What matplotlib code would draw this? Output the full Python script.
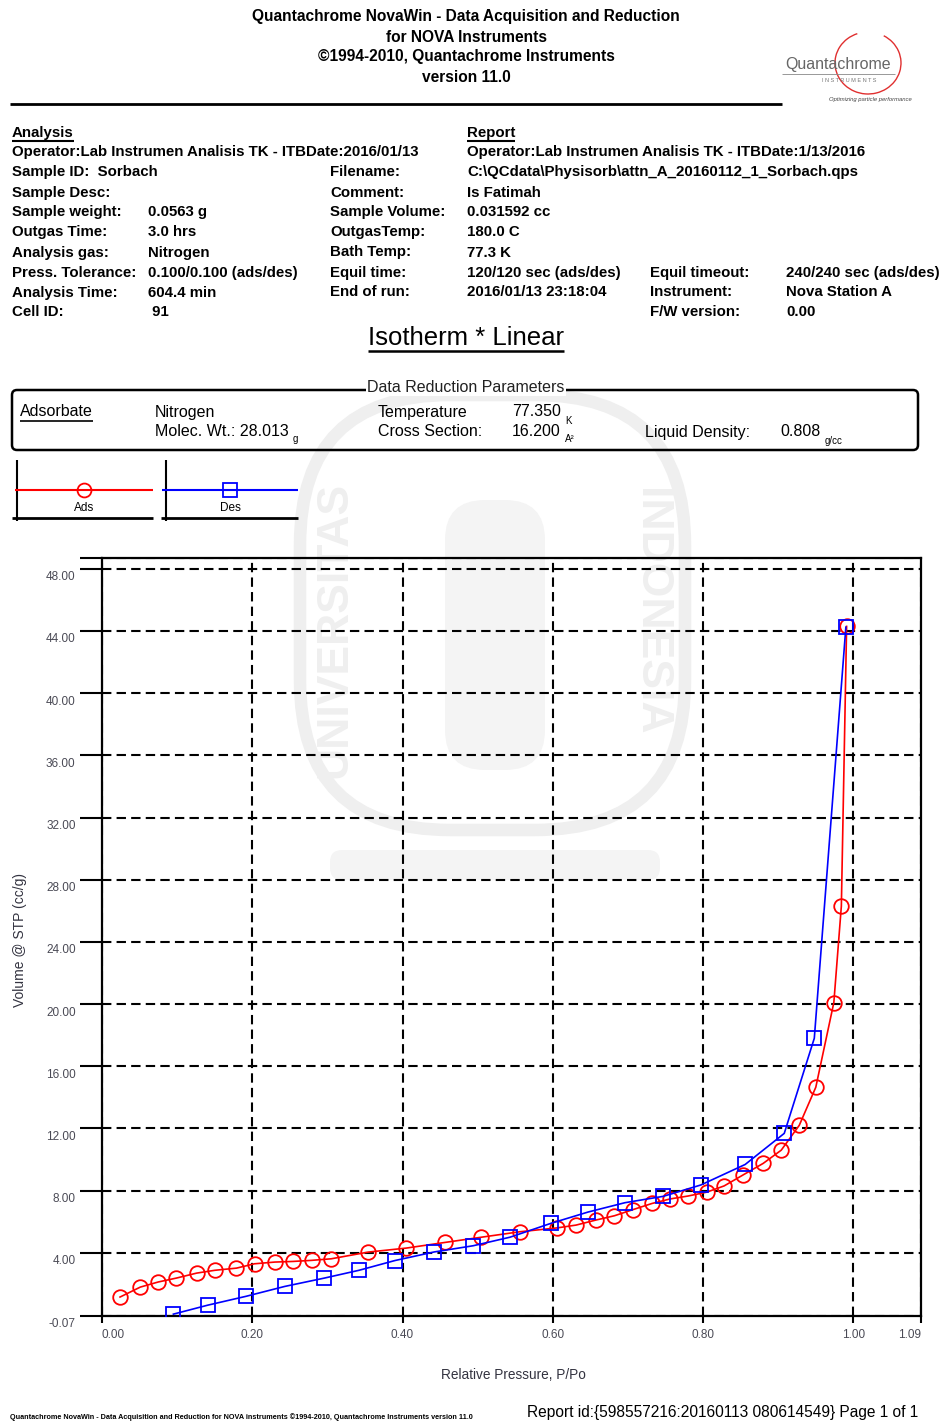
import matplotlib
matplotlib.use("Agg")
import matplotlib.pyplot as plt
from matplotlib.patches import FancyBboxPatch, Arc
from matplotlib.transforms import ScaledTranslation

plt.rcParams['font.family'] = ['Liberation Sans', 'DejaVu Sans']

# ---- isotherm data (relative pressure P/Po, volume @ STP cc/g) ----
ads_p = [0.024, 0.051, 0.075, 0.099, 0.126, 0.150, 0.179, 0.203, 0.230, 0.254,
         0.279, 0.305, 0.354, 0.405, 0.456, 0.505, 0.556, 0.606, 0.631, 0.657,
         0.682, 0.707, 0.732, 0.756, 0.780, 0.805, 0.828, 0.853, 0.880, 0.904,
         0.928, 0.950, 0.974, 0.984, 0.991]
ads_v = [1.15, 1.79, 2.12, 2.37, 2.69, 2.87, 3.01, 3.29, 3.40, 3.44,
         3.51, 3.61, 4.04, 4.30, 4.66, 5.00, 5.35, 5.60, 5.78, 6.10,
         6.38, 6.78, 7.17, 7.46, 7.65, 7.90, 8.30, 9.00, 9.75, 10.60,
         12.20, 14.65, 20.10, 26.30, 44.30]
des_p = [0.990, 0.948, 0.908, 0.856, 0.797, 0.747, 0.696, 0.647, 0.598, 0.543,
         0.494, 0.442, 0.390, 0.342, 0.296, 0.243, 0.192, 0.141, 0.095]
des_v = [44.25, 17.80, 11.68, 9.68, 8.36, 7.63, 7.22, 6.62, 5.90, 5.00,
         4.45, 4.05, 3.50, 2.87, 2.37, 1.83, 1.20, 0.63, 0.05]

x_ticks = [0.00, 0.20, 0.40, 0.60, 0.80, 1.00, 1.09]
y_ticks = [-0.07, 4.0, 8.0, 12.0, 16.0, 20.0, 24.0, 28.0, 32.0, 36.0, 40.0, 44.0, 48.0]
x_max = 1.09
y_min = -0.07
y_max = 48.7

W, H = 944, 1423
fig = plt.figure(figsize=(W / 100, H / 100), dpi=100)

# page-level drawing layer in pixel coordinates (origin top-left)
deco = fig.add_axes([0, 0, 1, 1], zorder=0)
deco.set_xlim(0, W)
deco.set_ylim(H, 0)
deco.axis('off')


def txt(x, y, s, size=10.8, weight='bold', ha='left', color='black', **kw):
    return deco.text(x, y, s, fontsize=size, fontweight=weight, ha=ha,
                     va='center', color=color, **kw)


def hline(x0, x1, y, lw=1.5, color='black', **kw):
    deco.plot([x0, x1], [y, y], color=color, lw=lw, solid_capstyle='butt', **kw)


def vline(x, y0, y1, lw=1.5, color='black', **kw):
    deco.plot([x, x], [y0, y1], color=color, lw=lw, solid_capstyle='butt', **kw)


# ---- faint institutional watermark ----
wm = '#efefef'
deco.add_patch(FancyBboxPatch((300, 395), 385, 435, boxstyle='round,pad=0,rounding_size=150',
                              fill=False, ec=wm, lw=9, zorder=0))
deco.text(335, 630, 'UNIVERSITAS', rotation=90, fontsize=32, color=wm,
          ha='center', va='center', fontweight='bold', zorder=0)
deco.text(650, 612, 'INDONESIA', rotation=-90, fontsize=32, color=wm,
          ha='center', va='center', fontweight='bold', zorder=0)
deco.add_patch(FancyBboxPatch((445, 500), 100, 270, boxstyle='round,pad=0,rounding_size=40',
                              fill=True, fc='#f4f4f4', ec='none', zorder=0))
deco.add_patch(FancyBboxPatch((330, 850), 330, 30, boxstyle='round,pad=0,rounding_size=12',
                              fill=True, fc='#f4f4f4', ec='none', zorder=0))

# ---- header ----
header = ["Quantachrome NovaWin - Data Acquisition and Reduction",
          "for NOVA Instruments",
          "\u00a91994-2010, Quantachrome Instruments",
          "version 11.0"]
for i, line in enumerate(header):
    txt(466, 17 + i * 20, line, size=11.2, ha='center')
hline(10, 782, 104, lw=2)

# logo
deco.add_patch(Arc((868, 63), 66, 62, theta1=-60, theta2=250, color='#e03030', lw=1))
txt(838, 65, 'Quantachrome', size=11.5, weight='normal', ha='center', color='#666666')
hline(782, 895, 74, lw=0.6, color='#888888')
txt(822, 80, 'I N S T R U M E N T S', size=4, weight='normal', color='#777777')
txt(870, 99, 'Optimizing particle performance', size=4.2, weight='normal',
    ha='center', color='#444444', style='italic')

# ---- analysis / report block ----
left_rows = [("Operator:Lab Instrumen Analisis TK - ITBDate:2016/01/13", None, 152),
             ("Sample ID:  Sorbach", None, 172),
             ("Sample Desc:", None, 193),
             ("Sample weight:", "0.0563 g", 212),
             ("Outgas Time:", "3.0 hrs", 232),
             ("Analysis gas:", "Nitrogen", 253),
             ("Press. Tolerance:", "0.100/0.100 (ads/des)", 273),
             ("Analysis Time:", "604.4 min", 293),
             ("Cell ID:", " 91", 312)]
for lab, val, y in left_rows:
    txt(12, y, lab)
    if val:
        txt(148, y, val)

mid_rows = [("Filename:", 172), ("Comment:", 193), ("Sample Volume:", 212),
            ("OutgasTemp:", 232), ("Bath Temp:", 252), ("Equil time:", 273),
            ("End of run:", 292)]
for lab, y in mid_rows:
    txt(330, y, lab)

rep_rows = [("Operator:Lab Instrumen Analisis TK - ITBDate:1/13/2016", 152),
            ("C:\\QCdata\\Physisorb\\attn_A_20160112_1_Sorbach.qps", 172),
            ("Is Fatimah", 193), ("0.031592 cc", 212), ("180.0 C", 232),
            ("77.3 K", 253), ("120/120 sec (ads/des)", 273),
            ("2016/01/13 23:18:04", 292)]
for val, y in rep_rows:
    txt(467, y, val)

right_rows = [("Equil timeout:", "240/240 sec (ads/des)", 273),
              ("Instrument:", "Nova Station A", 292),
              ("F/W version:", "0.00", 312)]
for lab, val, y in right_rows:
    txt(650, y, lab)
    txt(786, y, val)

t_an = txt(12, 133, "Analysis")
t_rep = txt(467, 133, "Report")

t_title = txt(466, 338, "Isotherm * Linear", size=18.5, weight='normal', ha='center')

# ---- data reduction parameters box ----
deco.add_patch(FancyBboxPatch((12, 390), 906, 60, boxstyle='round,pad=0,rounding_size=5',
                              fill=False, ec='black', lw=1.8))
drp = 11.5
sub = 7
txt(466, 387, "Data Reduction Parameters", size=drp, weight='normal', ha='center',
    color='#222222', bbox=dict(fc='white', ec='none', pad=1.0))
t_ads = txt(20, 412, "Adsorbate", size=drp, weight='normal')
txt(155, 412, "Nitrogen", size=drp, weight='normal')
t_mw = txt(155, 431, "Molec. Wt.: 28.013", size=drp, weight='normal')
txt(378, 412, "Temperature", size=drp, weight='normal')
t_temp = txt(512, 412, "77.350", size=drp, weight='normal')
txt(378, 431, "Cross Section:", size=drp, weight='normal')
t_cs = txt(512, 431, "16.200", size=drp, weight='normal')
txt(645, 432, "Liquid Density:", size=drp, weight='normal')
t_ld = txt(780, 432, "0.808", size=drp, weight='normal')

# ---- legend boxes ----
vline(17, 460, 521, lw=1.5)
hline(12, 153, 518, lw=2)
hline(15, 153, 490, lw=1.5, color='red')
deco.plot([84], [490], marker='o', ms=10, mfc='none', mec='red', mew=1.3)
txt(84, 508, "Ads", size=8.5, weight='normal', ha='center')

vline(166, 460, 521, lw=1.5)
hline(161, 298, 518, lw=2)
hline(162, 298, 490, lw=1.5, color='blue')
deco.plot([230], [490], marker='s', ms=10, mfc='none', mec='blue', mew=1.3)
txt(230, 508, "Des", size=8.5, weight='normal', ha='center')

# ---- isotherm plot ----
ax = fig.add_axes([102 / W, 1 - 1316 / H, (921 - 102) / W, (1316 - 558) / H], zorder=2)
ax.patch.set_alpha(0)
ax.set_xlim(0, x_max)
ax.set_ylim(y_min, y_max)

ax.plot(ads_p, ads_v, color='red', lw=1.2, marker='o', ms=10.5, mfc='none',
        mec='red', mew=1.3, zorder=3)
ax.plot(des_p, des_v, color='blue', lw=1.2, marker='s', ms=10.5, mfc='none',
        mec='blue', mew=1.3, zorder=4)

ax.set_xticks(x_ticks)
ax.set_xticklabels([f"{v:.2f}" for v in x_ticks])
ax.set_yticks(y_ticks + [y_max])
ax.set_yticklabels([f"{v:.2f}" for v in y_ticks] + [""])
ax.tick_params(axis='y', direction='out', length=16, width=1.5, pad=3,
               labelsize=8.5, labelcolor='#4a4a55')
ax.tick_params(axis='x', direction='out', length=5, width=1.5, pad=4.5,
               labelsize=8.5, labelcolor='#4a4a55')
for lbl in ax.get_yticklabels():
    lbl.set_transform(lbl.get_transform() +
                      ScaledTranslation(0, -5 / 72, fig.dpi_scale_trans))
xl = ax.get_xticklabels()
xl[0].set_horizontalalignment('left')
xl[-1].set_horizontalalignment('right')

ax.grid(True, color='black', lw=1.5, linestyle=(0, (4.5, 2.5)), zorder=1)
for sp in ax.spines.values():
    sp.set_linewidth(1.6)

txt(20, 940, "Volume @ STP (cc/g)", size=10, weight='normal', rotation=90,
    ha='center', color='#333340')
txt(513, 1375, "Relative Pressure, P/Po", size=9.8, weight='normal', ha='center',
    color='#333340')

# ---- footer ----
txt(10, 1417, "Quantachrome NovaWin - Data Acquisition and Reduction for NOVA instruments "
    "\u00a91994-2010, Quantachrome Instruments version 11.0", size=5.2)
txt(527, 1412, "Report id:{598557216:20160113 080614549} Page 1 of 1", size=11.2,
    weight='normal')

# underlines below headings, unit subscripts after values
fig.canvas.draw()
for t, lw in [(t_an, 1.5), (t_rep, 1.5), (t_title, 1.8), (t_ads, 1.2)]:
    bb = t.get_window_extent()
    hline(bb.x0, bb.x1, H - bb.y0 + 1, lw=lw)
for t, unit in [(t_mw, "g"), (t_temp, "K"), (t_cs, "A\u00b2"), (t_ld, "g/cc")]:
    bb = t.get_window_extent()
    txt(bb.x1 + 4, H - bb.y0 + 1, unit, size=sub, weight='normal')

fig.savefig("out.png", dpi=100, facecolor='white')
